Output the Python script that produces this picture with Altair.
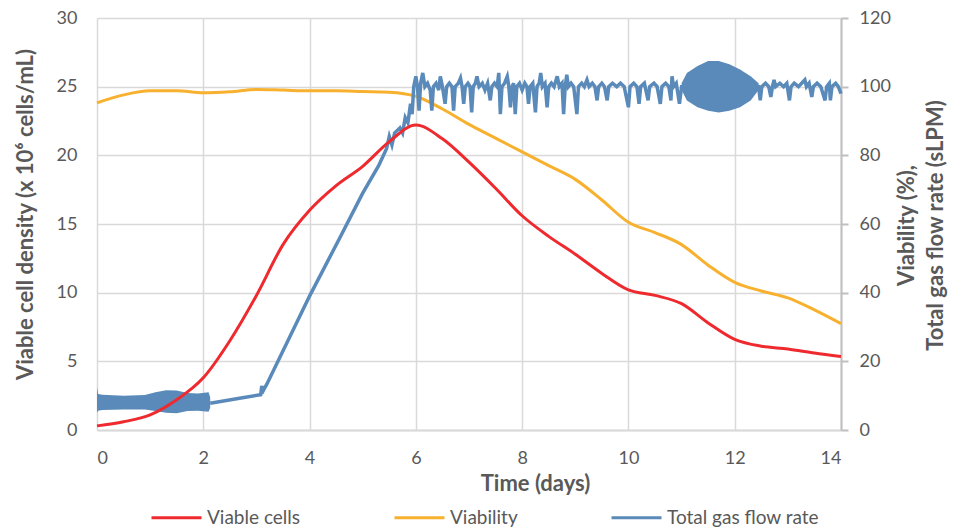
import altair as alt
import pandas as pd

# ---------------- data ----------------
days = [0, 0.5, 1, 1.5, 2, 2.5, 3, 3.5, 4, 4.5, 5, 5.5, 6, 6.5, 7, 7.5, 8,
        8.5, 9, 9.5, 10, 10.5, 11, 11.5, 12, 12.5, 13, 13.5, 14]
viable_cells = [0.3, 0.6, 1.1, 2.2, 3.8, 6.5, 9.8, 13.5, 16.0, 17.8, 19.2, 21.0, 22.2,
                21.2, 19.5, 17.6, 15.6, 14.1, 12.8, 11.4, 10.2, 9.8, 9.2, 7.8, 6.6,
                6.1, 5.9, 5.6, 5.35]
viability = [95.3, 97.6, 98.8, 98.8, 98.2, 98.5, 99.2, 99.0, 98.8, 98.8, 98.6, 98.4, 97.2,
             93.5, 89.0, 85.0, 81.0, 77.0, 73.0, 67.0, 60.5, 57.5, 54.0, 48.0, 43.0,
             40.5, 38.5, 35.0, 31.0]

# total gas flow rate: (day, sLPM)
gas_points = [
    (2.13, 7.8), (2.6, 9.0), (3.08, 10.3), (3.10, 12.8), (3.13, 11.5), (3.2, 13.5),
    (4.0, 39), (4.57, 56), (5.0, 69), (5.3, 77), (5.45, 82), (5.5, 85.5), (5.55, 83),
    (5.6, 86.5), (5.7, 88), (5.75, 86.5), (5.8, 91), (5.85, 89.5), (5.9, 95), (5.93, 92),
    (5.96, 100), (6.00, 103), (6.03, 100), (6.06, 93), (6.09, 101), (6.13, 104),
    (6.17, 100), (6.22, 101), (6.27, 99), (6.30, 93), (6.33, 100), (6.38, 101),
    (6.43, 99), (6.46, 103), (6.50, 100), (6.55, 95), (6.58, 100), (6.63, 101),
    (6.68, 100), (6.71, 93), (6.74, 100), (6.80, 101), (6.84, 102.5), (6.87, 100),
    (6.90, 95), (6.93, 100), (6.98, 101), (7.02, 100), (7.05, 92.5), (7.08, 100),
    (7.12, 101), (7.15, 103), (7.19, 100), (7.25, 101), (7.30, 99), (7.35, 101),
    (7.40, 96), (7.43, 100), (7.48, 101), (7.53, 100), (7.56, 104), (7.59, 92),
    (7.62, 100), (7.67, 101), (7.72, 103), (7.75, 100), (7.78, 94), (7.81, 100),
    (7.84, 101), (7.87, 92), (7.90, 100), (7.95, 101), (8.00, 99), (8.05, 101),
    (8.09, 100), (8.12, 95), (8.15, 100), (8.20, 101), (8.25, 92.5), (8.28, 100),
    (8.32, 101), (8.35, 104), (8.38, 100), (8.43, 101), (8.47, 94), (8.50, 100),
    (8.55, 101), (8.60, 100), (8.66, 103), (8.70, 100), (8.75, 101), (8.78, 92),
    (8.81, 100), (8.84, 103.5), (8.87, 100), (8.92, 101), (8.97, 100), (9.03, 92),
    (9.06, 100), (9.12, 101), (9.17, 100), (9.22, 102), (9.26, 100), (9.32, 101),
    (9.37, 100), (9.41, 96), (9.44, 100), (9.50, 101), (9.55, 100), (9.60, 96),
    (9.63, 100), (9.70, 101), (9.78, 100), (9.85, 101), (9.92, 100), (10.00, 94),
    (10.03, 100), (10.10, 101), (10.16, 100), (10.20, 95), (10.23, 100), (10.30, 101),
    (10.37, 96), (10.40, 100), (10.48, 101), (10.54, 100), (10.60, 95), (10.63, 100),
    (10.70, 101), (10.76, 100), (10.80, 96), (10.82, 103), (10.85, 100), (10.90, 101),
    (10.96, 95), (11.00, 100), (12.45, 100), (12.48, 96), (12.51, 100), (12.58, 101),
    (12.64, 100), (12.68, 97), (12.71, 100), (12.74, 102), (12.77, 100), (12.85, 101),
    (12.92, 100), (12.98, 101), (13.03, 96), (13.06, 100), (13.12, 101), (13.20, 100),
    (13.26, 101), (13.32, 102), (13.35, 100), (13.40, 101), (13.45, 97), (13.48, 100),
    (13.55, 101), (13.62, 100), (13.70, 96), (13.73, 100), (13.78, 101), (13.80, 96),
    (13.83, 100), (13.90, 101), (13.95, 100), (14.00, 98),
]

# dense oscillation bands of the gas flow signal (envelope: low / high)
band1_days = [0, 0.02, 0.1, 0.5, 0.9, 1.1, 1.3, 1.5, 1.7, 1.9, 2.1, 2.13]
band1_low = [5.0, 5.6, 5.8, 6.0, 6.0, 5.5, 5.0, 4.9, 5.5, 5.6, 5.3, 6.5]
band1_high = [12.5, 10.5, 10.3, 10.0, 10.2, 11.0, 11.6, 11.5, 10.8, 10.6, 11.0, 9.5]

band2_days = [11.0, 11.1, 11.3, 11.5, 11.7, 11.9, 12.1, 12.3, 12.45]
band2_low = [99, 96, 94, 93, 92.5, 93, 94, 96, 99]
band2_high = [101, 104, 106, 107.5, 107.5, 106.5, 105, 103, 101]

series_names = ["Viable cells", "Viability", "Total gas flow rate"]
series_colors = ["#ee2a2e", "#f7b12f", "#5a8aba"]

# ---------------- tables ----------------
cells_df = pd.DataFrame({"t": days, "v": viable_cells, "series": series_names[0]})
viab_df = pd.DataFrame({"t": days, "v": viability, "series": series_names[1]})
gas_df = pd.DataFrame({"t": [p[0] for p in gas_points], "v": [p[1] for p in gas_points],
                       "series": series_names[2]})
band_df = pd.concat([
    pd.DataFrame({"t": band1_days, "lo": band1_low, "hi": band1_high, "g": "a"}),
    pd.DataFrame({"t": band2_days, "lo": band2_low, "hi": band2_high, "g": "b"}),
])

FONT = "Lato"
GRAY = "#595959"
GRID = "#d9d9d9"
TITLE_SIZE = 22

x_enc = alt.X(
    "t:Q",
    scale=alt.Scale(domain=[0, 14], nice=False, zero=False),
    axis=alt.Axis(
        values=list(range(0, 15, 2)), title="Time (days)", grid=True, gridColor=GRID,
        gridWidth=1.5, domainColor=GRID, domainWidth=2, ticks=False, tickSize=0,
        labelPadding=19, labelFontSize=18, labelFont=FONT, labelColor=GRAY,
        titleFont=FONT, titleFontSize=TITLE_SIZE, titleFontWeight="bold", titleColor=GRAY,
        titleX=438, titleY=53, titleAlign="center", titleBaseline="middle",
    ),
)

color_enc = alt.Color(
    "series:N",
    scale=alt.Scale(domain=series_names, range=series_colors),
    legend=alt.Legend(
        title=None, orient="none", direction="horizontal", columns=3,
        legendX=53, legendY=473, symbolType="stroke", symbolSize=2500,
        symbolStrokeWidth=3, labelFontSize=19, labelFont=FONT, labelColor=GRAY,
        labelLimit=400, columnPadding=87, labelOffset=4,
    ),
)

left_axis = alt.Axis(
    orient="left", values=[0, 5, 10, 15, 20, 25, 30], grid=True, gridColor=GRID,
    gridWidth=1.5, domain=False, ticks=False, tickSize=0, labelPadding=20,
    labelFontSize=18, labelFont=FONT, labelColor=GRAY,
    title="Viable cell density (x 10⁶ cells/mL)", titleFont=FONT, titleFontSize=TITLE_SIZE,
    titleFontWeight="bold", titleColor=GRAY, titleAngle=270, titleX=-72, titleY=196,
    titleAlign="center", titleBaseline="middle",
)

right_axis = alt.Axis(
    orient="right", values=[0, 20, 40, 60, 80, 100, 120], grid=False,
    domainColor="#bfbfbf", domainWidth=2, tickColor="#bfbfbf", tickWidth=2, tickSize=7,
    labelPadding=11, labelFontSize=18, labelFont=FONT, labelColor=GRAY,
    title=["Viability (%),", "Total gas flow rate (sLPM)"], titleFont=FONT,
    titleFontSize=TITLE_SIZE, titleFontWeight="bold", titleColor=GRAY, titleAngle=270,
    titleX=65, titleY=207, titleAlign="center", titleBaseline="middle", titleLineHeight=29,
)

left_y = alt.Y("v:Q", scale=alt.Scale(domain=[0, 30], nice=False), axis=left_axis)
right_scale = alt.Scale(domain=[0, 120], nice=False)

viab_line = alt.Chart(viab_df).mark_line(strokeWidth=3, interpolate="monotone").encode(
    x=x_enc, y=alt.Y("v:Q", scale=right_scale, axis=right_axis), color=color_enc
)
bands = alt.Chart(band_df).mark_area(color=series_colors[2], interpolate="linear").encode(
    x=x_enc,
    y=alt.Y("lo:Q", scale=right_scale, axis=right_axis),
    y2="hi:Q",
    detail="g:N",
)
gas_line = alt.Chart(gas_df).mark_line(strokeWidth=3.5).encode(
    x=x_enc, y=alt.Y("v:Q", scale=right_scale, axis=right_axis), color=color_enc
)
right_layer = alt.layer(viab_line, bands, gas_line)

cells_line = alt.Chart(cells_df).mark_line(strokeWidth=3, interpolate="monotone").encode(
    x=x_enc, y=left_y, color=color_enc
)

chart = (
    alt.layer(right_layer, cells_line)
    .resolve_scale(y="independent")
    .properties(
        width=744, height=412,
        autosize=alt.AutoSizeParams(type="none"),
        padding={"left": 97, "top": 18, "right": 125, "bottom": 99},
        background="white",
    )
    .configure_view(stroke=None)
)

chart.save("out.html", embed_options={"renderer": "svg", "actions": False})
